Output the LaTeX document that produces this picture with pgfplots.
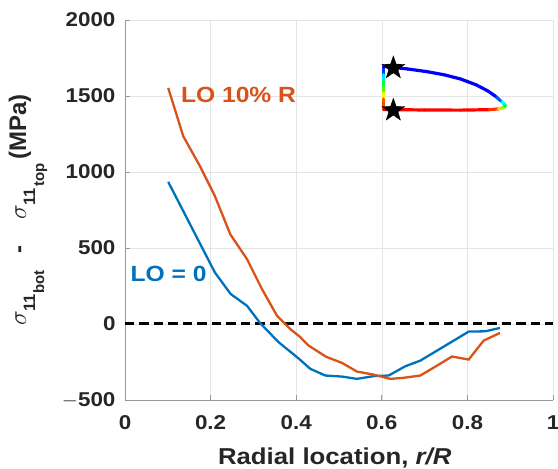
\documentclass[border=0pt]{standalone}
\usepackage{fontspec}
\setmainfont[FakeStretch=1.12]{Liberation Sans}
\newfontfamily\plainsans{Liberation Sans}
\usepackage{pgfplots}
\pgfplotsset{compat=1.18}
\definecolor{mblue}{rgb}{0,0.447,0.741}
\definecolor{morange}{rgb}{0.85,0.325,0.098}
\newcommand{\sig}[1]{{\fontsize{27}{27}\selectfont$\sigma$}\hspace{-1pt}\raisebox{-9pt}{\fontsize{16.5}{16.5}\selectfont 11}\hspace{1pt}\raisebox{-18pt}{\fontsize{15}{15}\selectfont #1}}
\pgfdeclareplotmark{fstar}{%
 \pgfpathmoveto{\pgfpointpolar{90}{\pgfplotmarksize}}%
 \pgfpathlineto{\pgfpointpolar{126}{0.40\pgfplotmarksize}}%
 \pgfpathlineto{\pgfpointpolar{162}{\pgfplotmarksize}}%
 \pgfpathlineto{\pgfpointpolar{198}{0.40\pgfplotmarksize}}%
 \pgfpathlineto{\pgfpointpolar{234}{\pgfplotmarksize}}%
 \pgfpathlineto{\pgfpointpolar{270}{0.40\pgfplotmarksize}}%
 \pgfpathlineto{\pgfpointpolar{306}{\pgfplotmarksize}}%
 \pgfpathlineto{\pgfpointpolar{342}{0.40\pgfplotmarksize}}%
 \pgfpathlineto{\pgfpointpolar{18}{\pgfplotmarksize}}%
 \pgfpathlineto{\pgfpointpolar{54}{0.40\pgfplotmarksize}}%
 \pgfpathclose\pgfusepathqfillstroke}
\begin{document}
\begin{tikzpicture}
\useasboundingbox (-125pt,-69pt) rectangle (433pt,400pt);
\begin{axis}[
  at={(0,0)}, anchor=south west,
  scale only axis, width=428pt, height=380pt,
  xmin=0, xmax=1, ymin=-500, ymax=2000,
  xtick={0,0.2,0.4,0.6,0.8,1},
  ytick={-500,0,500,1000,1500,2000},
  xticklabels={0,0.2,0.4,0.6,0.8,1},
  yticklabels={$-$500,0,500,1000,1500,2000},
  axis x line*=bottom, axis y line*=left,
  axis line style={gray!80, line width=0.6pt},
  tick style={gray!80, line width=0.6pt},
  tick align=inside, major tick length=5pt,
  grid=major, major grid style={gray!20, line width=0.5pt},
  ticklabel style={font=\fontsize{20}{23}\selectfont\bfseries, text=black!85},
  /pgf/number format/assume math mode=true,
  xticklabel style={yshift=-12pt},
  yticklabel style={xshift=-6pt},
  xlabel={Radial location, \textit{r/R}},
  ylabel={\sig{bot}\hspace{17pt}-\hspace{26pt}\sig{top}\hspace{4pt}(MPa)},
  xlabel style={font=\fontsize{23}{26}\selectfont\bfseries, text=black!85, at={(axis description cs:0.49,0)}, anchor=north, yshift=-44pt},
  ylabel style={font=\plainsans\fontsize{24}{27}\selectfont\bfseries, text=black!85, at={(axis description cs:-0.2313,0.5)}, anchor=base},
  clip=false,
  colormap={rb}{rgb255=(0,0,255) rgb255=(0,255,255) rgb255=(0,255,0) rgb255=(255,255,0) rgb255=(255,0,0)},
]
\addplot[black, line width=3pt, dash pattern=on 9.5pt off 5pt, forget plot] coordinates {(0,0) (1,0)};
\addplot[mblue, line width=2.3pt] coordinates {
(0.101,935) (0.21,339) (0.247,197) (0.285,120) (0.316,5) (0.359,-120) (0.407,-230)
(0.433,-295) (0.468,-339) (0.507,-346) (0.542,-361) (0.581,-343) (0.616,-339)
(0.655,-278) (0.690,-241) (0.729,-175) (0.764,-116) (0.803,-50) (0.842,-48) (0.876,-26)};
\addplot[morange, line width=2.3pt] coordinates {
(0.101,1553) (0.136,1236) (0.175,1039) (0.21,842) (0.246,590) (0.285,427) (0.32,230)
(0.355,55) (0.386,-33) (0.409,-85) (0.429,-142) (0.470,-216) (0.507,-256) (0.542,-313)
(0.581,-333) (0.620,-361) (0.651,-354) (0.690,-339) (0.729,-274) (0.764,-214)
(0.803,-234) (0.838,-109) (0.876,-59)};
\addplot[mesh, point meta=explicit, point meta min=0, point meta max=1, line width=3.2pt, line cap=round, line join=round]
 table[meta=m] {
x y m
0.604 1695 0
0.604 1640 0.1
0.604 1600 0.35
0.604 1560 0.5
0.604 1520 0.65
0.604 1480 0.85
0.604 1411 1
0.700 1408 1
0.784 1407 1
0.850 1410 1
0.872 1415 0.9
0.884 1424 0.7
0.889 1434 0.55
0.885 1450 0.35
0.877 1470 0.15
0.865 1500 0.02
0.846 1536 0
0.820 1574 0
0.784 1612 0
0.745 1640 0
0.706 1660 0
0.660 1678 0
0.604 1695 0
};
\addplot[only marks, mark=fstar, mark size=12pt, black] coordinates {(0.627,1684) (0.627,1406)};
\node[font=\fontsize{22}{26}\selectfont\bfseries, text=morange, anchor=west] at (axis cs:0.1226,1506) {LO 10\% R};
\node[font=\fontsize{22}{26}\selectfont\bfseries, text=mblue, anchor=west] at (axis cs:0.005,328) {LO = 0};
\end{axis}
\end{tikzpicture}
\end{document}
